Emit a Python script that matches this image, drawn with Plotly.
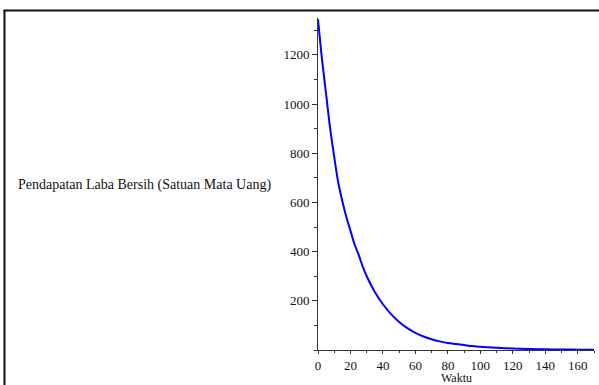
import plotly.graph_objects as go

# Data
waktu = [0, 2.5, 5, 7.5, 10, 12.5, 15, 17.5, 20, 22.5, 25, 27.5, 30, 35, 40, 45, 50, 55, 60, 65,
         70, 75, 80, 85, 90, 95, 100, 110, 120, 130, 140, 150, 160, 170]
laba = [1345, 1180, 1040, 900, 785, 680, 605, 540, 485, 430, 388, 340, 300, 236, 186, 146, 114, 89, 70, 55,
        44, 35, 28, 24, 20, 16, 13, 9, 6, 4, 3, 2, 1.5, 1]

x_ticks = [0, 20, 40, 60, 80, 100, 120, 140, 160]
y_ticks = [200, 400, 600, 800, 1000, 1200]

x_title = "Waktu"
y_title = "Pendapatan Laba Bersih (Satuan Mata Uang)"

W, H = 599, 385
# window-pixel geometry of the plot area
PL, PR, PT, PB = 318, 594, 18, 350
L, R, T, B = PL, W - PR, PT, H - PB
PW, PH = PR - PL, PB - PT


def px(x):
    return (x - PL) / PW


def py(y):
    return (PB - y) / PH


font = "Liberation Serif, Times New Roman, serif"

fig = go.Figure()
fig.add_trace(go.Scatter(x=waktu, y=laba, mode="lines", line=dict(color="#0000ff", width=2),
                         line_shape="spline", showlegend=False))

axis_common = dict(showgrid=False, zeroline=False, showline=True, linecolor="#333333", linewidth=1,
                   ticks="outside", tickcolor="#333333", tickwidth=1,
                   tickfont=dict(family=font, size=13, color="#111111"), automargin=False)

fig.update_xaxes(range=[0, 170], tickvals=x_ticks, ticklen=3,
                 minor=dict(dtick=10, tick0=0, ticks="outside", ticklen=2, tickcolor="#333333"),
                 **axis_common)
fig.update_yaxes(range=[0, 1350], tickvals=y_ticks, ticklen=5,
                 minor=dict(dtick=100, tick0=0, ticks="outside", ticklen=3, tickcolor="#333333"),
                 **axis_common)

fig.add_annotation(text=x_title, xref="paper", yref="paper", x=px(456), y=py(377.5),
                   xanchor="center", yanchor="middle", showarrow=False, borderpad=0,
                   font=dict(family=font, size=12, color="#111111"))
fig.add_annotation(text=y_title, xref="paper", yref="paper", x=px(144), y=py(185),
                   xanchor="center", yanchor="middle", showarrow=False,
                   font=dict(family=font, size=14, color="#111111"))

# frame lines (left and top)
fig.add_shape(type="line", xref="paper", yref="paper", x0=px(4.5), x1=px(4.5), y0=py(10), y1=py(390),
              line=dict(color="#111111", width=2))
fig.add_shape(type="line", xref="paper", yref="paper", x0=px(3.5), x1=px(605), y0=py(10.5), y1=py(10.5),
              line=dict(color="#111111", width=2))

fig.update_layout(width=W, height=H, margin=dict(l=L, r=R, t=T, b=B, autoexpand=False),
                  plot_bgcolor="white", paper_bgcolor="white")

fig.write_html("out.html", config={"displayModeBar": False},
               post_script="document.body.style.margin='0px';document.body.style.overflow='hidden';")
